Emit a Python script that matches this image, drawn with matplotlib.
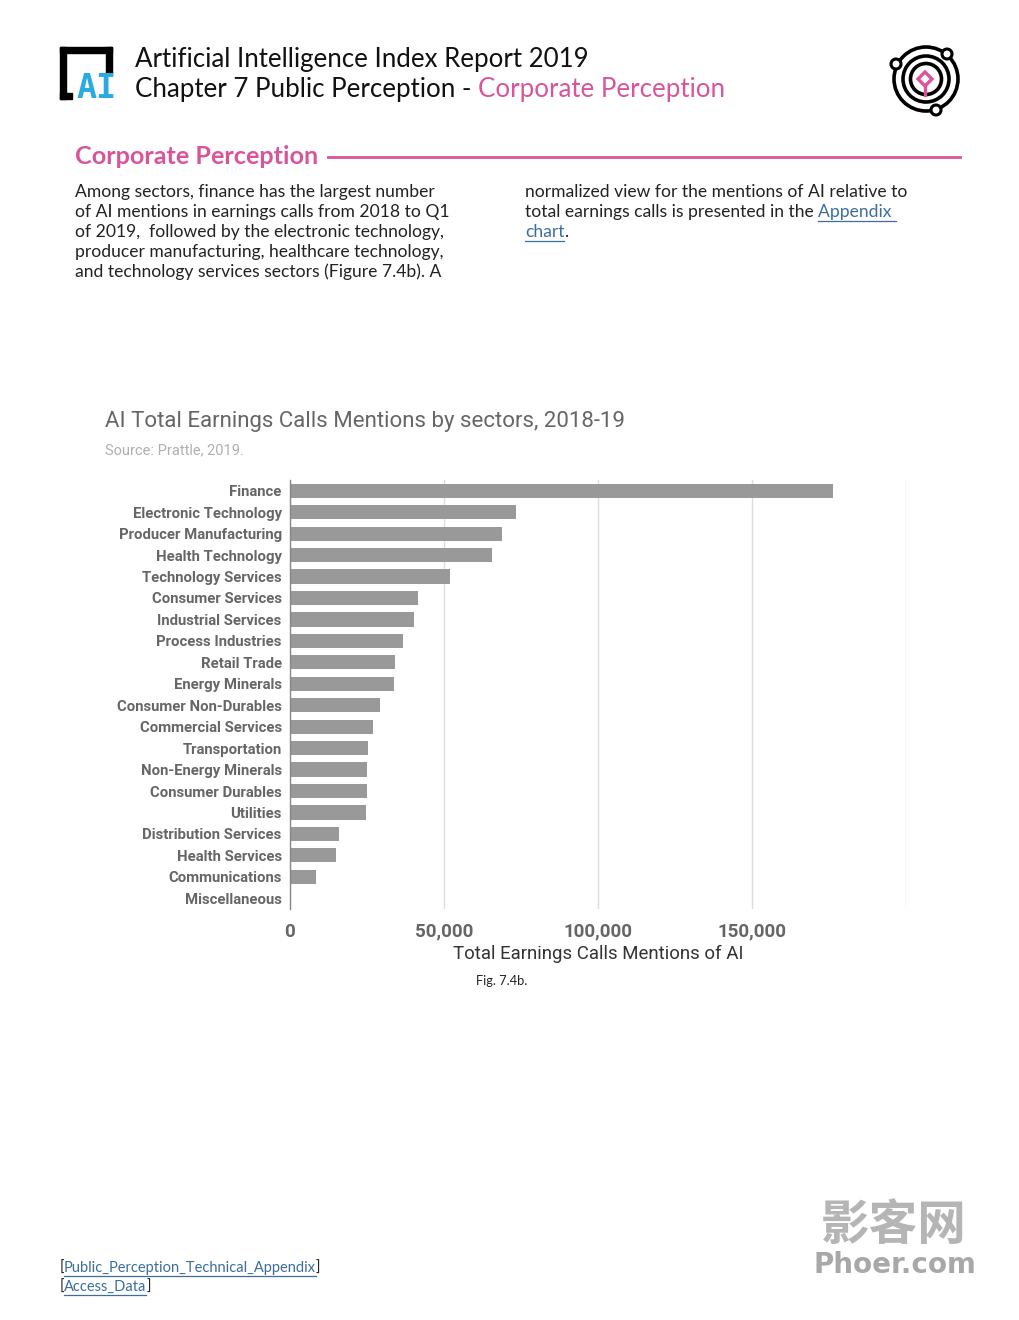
"""AI Index 2019, Fig. 7.4b: AI mentions in earnings calls by sector, page layout."""

import matplotlib.pyplot as plt
from matplotlib.patches import Circle, Rectangle, Polygon
from matplotlib.ticker import FuncFormatter

SECTORS = [
    "Finance", "Electronic Technology", "Producer Manufacturing", "Health Technology",
    "Technology Services", "Consumer Services", "Industrial Services", "Process Industries",
    "Retail Trade", "Energy Minerals", "Consumer Non-Durables", "Commercial Services",
    "Transportation", "Non-Energy Minerals", "Consumer Durables", "Utilities",
    "Distribution Services", "Health Services", "Communications", "Miscellaneous",
]
MENTIONS = [
    176300, 73400, 68900, 65500, 52000, 41400, 40400, 36800, 34200, 33800,
    29200, 27100, 25300, 25100, 24900, 24700, 15800, 15000, 8500, 0,
]
X_TICKS = [0, 50000, 100000, 150000, 200000]

TITLE = "AI Total Earnings Calls Mentions by sectors, 2018-19"
SOURCE = "Source: Prattle, 2019."
X_LABEL = "Total Earnings Calls Mentions of AI"

PINK = "#d9559b"
LINK = "#3b6e9e"
BAR = "#999999"
W, H = 1020, 1320

LEFT_TEXT = [
    "Among sectors, finance has the largest number",
    "of AI mentions in earnings calls from 2018 to Q1",
    "of 2019,  followed by the electronic technology,",
    "producer manufacturing, healthcare technology,",
    "and technology services sectors (Figure 7.4b). A",
]
RIGHT_TEXT = [
    "normalized view for the mentions of AI relative to",
    "total earnings calls is presented in the ",
]

fig = plt.figure(figsize=(W / 100, H / 100), dpi=100)
fig.patch.set_facecolor("white")

# ---- page overlay in pixel coordinates
page = fig.add_axes([0, 0, 1, 1])
page.set_xlim(0, W)
page.set_ylim(H, 0)
page.axis("off")
page.set_zorder(-1)


def px(v):
    return v * W / fig.bbox.width


def right_edge(t):
    fig.canvas.draw()
    return px(t.get_window_extent(fig.canvas.get_renderer()).x1)


# AI logo (bracket + blue letters)
page.add_patch(Rectangle((60, 47), 52, 6, color="black"))
page.add_patch(Rectangle((60, 47), 6, 52, color="black"))
page.add_patch(Rectangle((106, 47), 6, 26, color="black"))
page.add_patch(Rectangle((60, 93), 12, 6, color="black"))
page.text(97, 88, "AI", fontsize=24, fontweight="bold", color="#29abe2",
          ha="center", va="center", family="DejaVu Sans Mono")

header_font = "Lato"
HEAD_SIZE = 18.6
page.text(135, 59, "Artificial Intelligence Index Report 2019", fontsize=HEAD_SIZE,
          family=header_font, va="center", ha="left", color="#111111")
t1 = page.text(135, 89, "Chapter 7 Public Perception - ", fontsize=HEAD_SIZE,
               family=header_font, va="center", ha="left", color="#111111")
page.text(right_edge(t1), 89, "Corporate Perception", fontsize=HEAD_SIZE,
          family=header_font, va="center", ha="left", color=PINK)

# orbit logo
cx, cy = 926, 79
for rad in [32, 23, 15.5]:
    page.add_patch(Circle((cx, cy), rad, fill=False, lw=2.6, ec="black"))
for ox, oy in [(947, 54), (896, 64), (936, 110)]:
    page.add_patch(Circle((ox, oy), 5, fc="white", ec="black", lw=2.2, zorder=3))
page.add_patch(Polygon([(925, 72), (932, 79), (925, 86), (918, 79)], closed=True,
                       fill=False, ec=PINK, lw=2.4))
page.plot([925, 925], [86, 95], color=PINK, lw=2.4)

# section heading
page.text(75, 156, "Corporate Perception", fontsize=18.2, fontweight="bold",
          family=header_font, color=PINK, va="center", ha="left")
page.plot([328, 960], [157, 157], color=PINK, lw=2)

body_font = "Lato"
BODY_SIZE = 12.6
for i, line in enumerate(LEFT_TEXT):
    page.text(75, 192 + 20 * i, line, fontsize=BODY_SIZE, family=body_font,
              color="#222222", va="center", ha="left")
for i, line in enumerate(RIGHT_TEXT):
    page.text(525, 192 + 20 * i, line, fontsize=BODY_SIZE, family=body_font,
              color="#222222", va="center", ha="left")


def underlined(x, y, s, size, color, family):
    t = page.text(x, y, s, fontsize=size, family=family, color=color,
                  va="center", ha="left")
    fig.canvas.draw()
    b = t.get_window_extent(fig.canvas.get_renderer())
    x0, x1 = px(b.x0), px(b.x1)
    page.plot([x0, x1], [y + size * 0.72, y + size * 0.72], color=color, lw=0.9)
    return x1


t2 = page.text(525, 212, RIGHT_TEXT[1], fontsize=BODY_SIZE, family=body_font,
               alpha=0, va="center", ha="left")
underlined(right_edge(t2), 212, "Appendix ", BODY_SIZE, LINK, body_font)
xe = underlined(525, 232, "chart", BODY_SIZE, LINK, body_font)
page.text(xe, 232, ".", fontsize=BODY_SIZE, family=body_font,
          color="#222222", va="center", ha="left")

# chart title and source
page.text(105, 422, TITLE, fontsize=16, family="Roboto", color="#666666",
          va="center", ha="left")
page.text(105, 450, SOURCE, fontsize=10.5, family="Roboto", color="#b0b0b0",
          va="center", ha="left")

page.text(476, 981, "Fig. 7.4b.", fontsize=9.3, family=body_font, color="#222222",
          va="center", ha="left")

# footer links
for y, s in [(1268, "Public_Perception_Technical_Appendix"), (1287, "Access_Data")]:
    page.text(60, y, "[", fontsize=10.5, family=body_font, color="#222222",
              va="center", ha="left")
    xe = underlined(64, y, s, 10.5, LINK, body_font)
    page.text(xe, y, "]", fontsize=10.5, family=body_font, color="#222222",
              va="center", ha="left")

# watermark
page.text(894, 1226, "影客网", fontsize=35, fontweight="bold",
          family=["Noto Sans CJK SC", "DejaVu Sans"], color="#b5b5b5",
          va="center", ha="center")
page.text(895, 1265, "Phoer.com", fontsize=20, fontweight="bold",
          family="DejaVu Sans", color="#a8a8a8", va="center", ha="center")

# ---- chart
ax = fig.add_axes([290 / W, 1 - 909 / H, 616 / W, 429 / H])
ypos = list(range(len(SECTORS)))
ax.barh(ypos, MENTIONS, height=0.66, color=BAR, zorder=2)
ax.set_ylim(len(SECTORS) - 0.5, -0.5)
ax.set_xlim(0, 200000)
ax.set_yticks(ypos)
ax.set_yticklabels(SECTORS, fontsize=10.7, fontweight="bold", family="Roboto",
                   color="#666666")
ax.set_xticks(X_TICKS)
ax.xaxis.set_major_formatter(
    FuncFormatter(lambda v, p: "" if v >= 200000 else f"{int(v):,}"))
for lab in ax.get_xticklabels():
    lab.set_fontsize(13.5)
    lab.set_fontweight("bold")
    lab.set_family("Roboto")
    lab.set_color("#666666")
ax.tick_params(axis="both", length=0)
ax.tick_params(axis="y", pad=6)
ax.tick_params(axis="x", pad=10)
ax.grid(axis="x", color="#dddddd", lw=1, zorder=0)
for side in ["top", "right", "bottom"]:
    ax.spines[side].set_visible(False)
ax.spines["left"].set_color("#888888")
ax.spines["left"].set_linewidth(1)
ax.set_xlabel(X_LABEL, fontsize=13.4, family="Roboto", color="#333333", labelpad=3)

fig.savefig("out.png", dpi=100, facecolor="white")
